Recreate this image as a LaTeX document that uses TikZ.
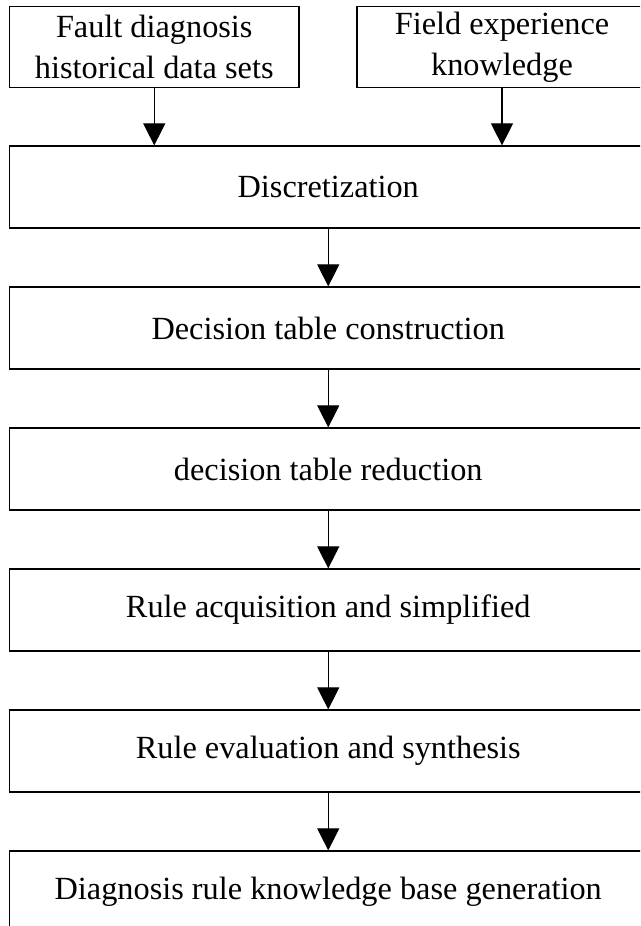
\documentclass[tikz,border=0pt]{standalone}
\usepackage{fontspec}
\setmainfont{Liberation Serif}
\usetikzlibrary{arrows.meta}
\begin{document}
\begin{tikzpicture}[x=1pt,y=1pt,
  box/.style={draw=black, line width=1.2pt, fill=white, inner sep=0pt, align=center,
              font=\fontsize{32.3}{41}\selectfont},
  topbox/.style={box, minimum width=289.5pt, minimum height=81pt},
  mainbox/.style={box, minimum width=637.5pt, minimum height=82pt},
  flow/.style={line width=1.1pt, -{Triangle[length=22pt,width=22pt]}}
]
\useasboundingbox (0,0) rectangle (640,-926);
\clip (0,0) rectangle (640,-926);
\node[topbox] (fault) at (154.25,-47) {Fault diagnosis\\historical data sets};
\node[topbox, minimum width=290pt] (field) at (502,-47) {Field experience\\knowledge};
\node[mainbox] (disc) at (328.25,-187) {Discretization};
\node[mainbox] (cons) at (328.25,-328) {Decision table construction};
\node[mainbox] (red) at (328.25,-469) {decision table reduction};
\node[mainbox] (acq) at (328.25,-610) {Rule acquisition and simplified};
\node[mainbox] (eval) at (328.25,-751) {Rule evaluation and synthesis};
\node[mainbox] (gen) at (328.25,-892) {Diagnosis rule knowledge base generation};
\draw[flow] (fault.south) -- (fault.south |- disc.north);
\draw[flow] (field.south) -- (field.south |- disc.north);
\draw[flow] (disc) -- (cons);
\draw[flow] (cons) -- (red);
\draw[flow] (red) -- (acq);
\draw[flow] (acq) -- (eval);
\draw[flow] (eval) -- (gen);
\end{tikzpicture}
\end{document}
